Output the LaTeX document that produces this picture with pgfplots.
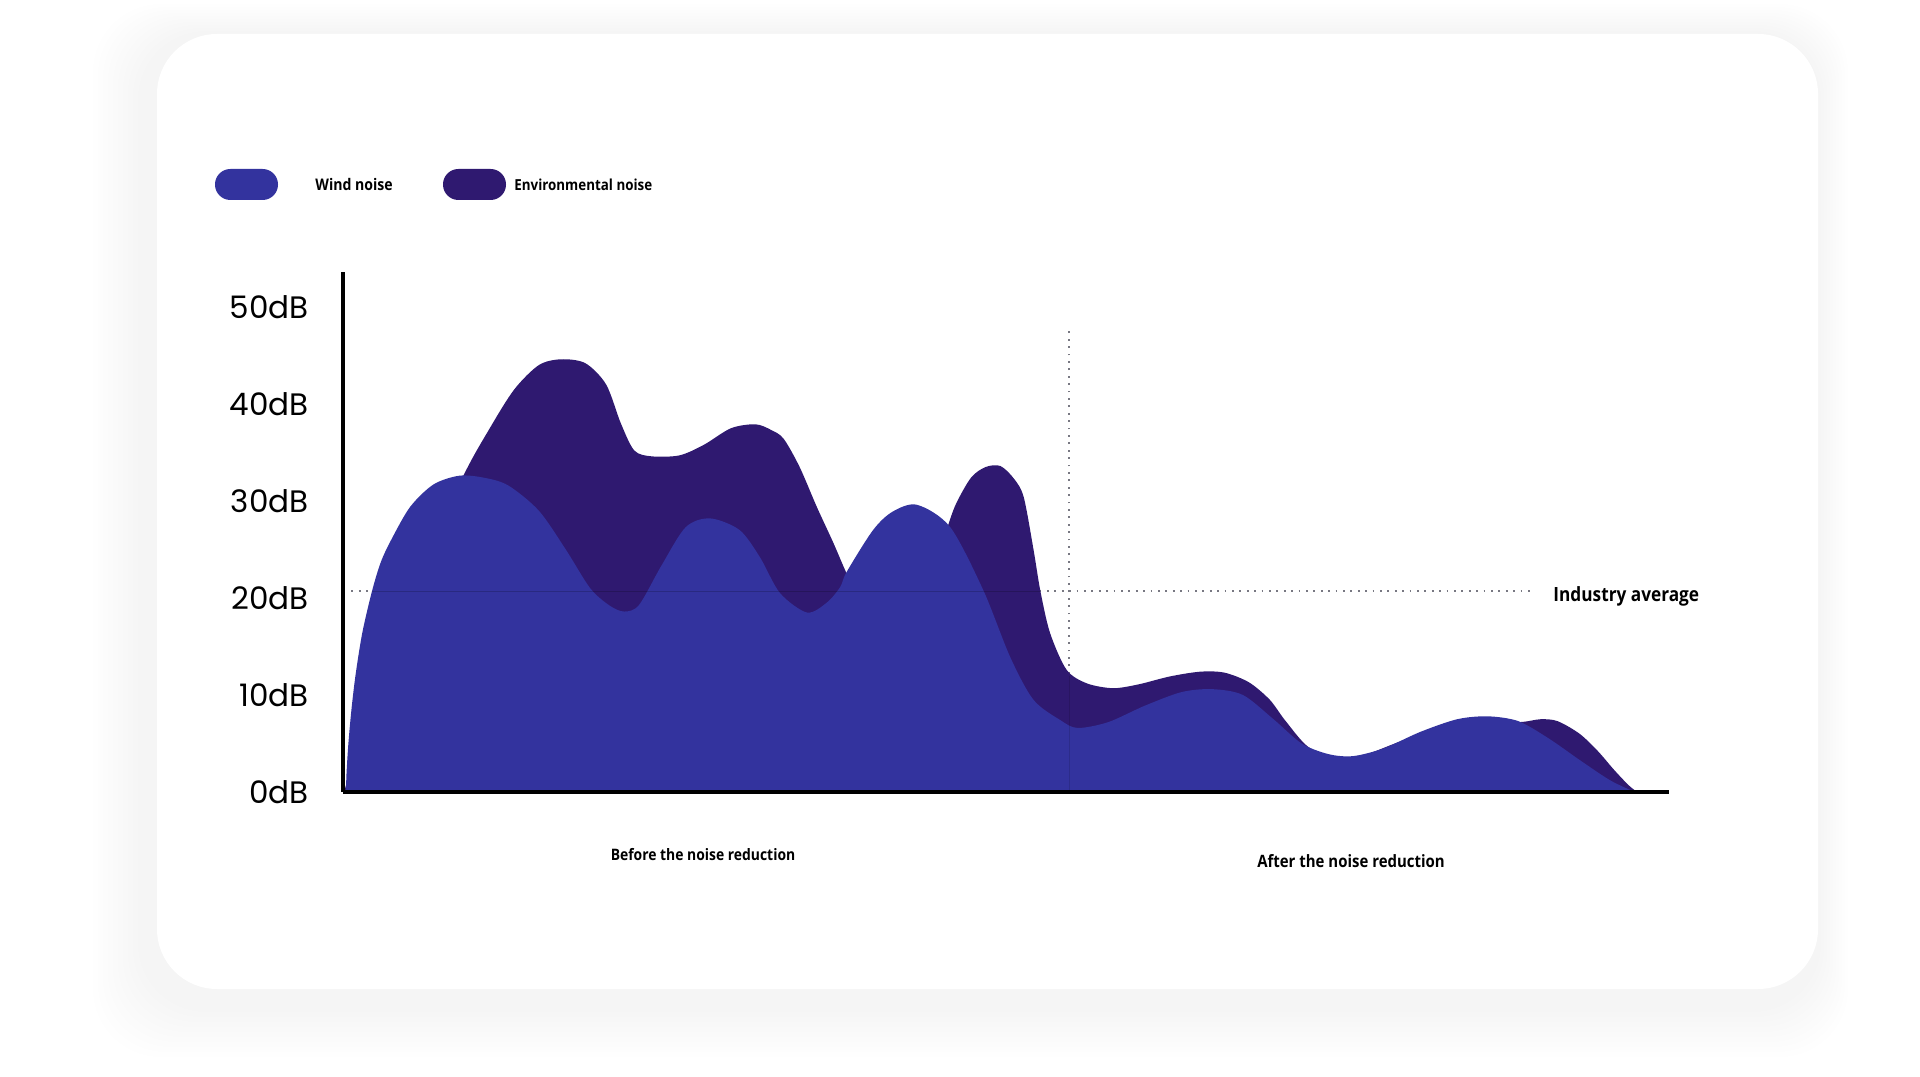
\documentclass[border=0pt]{standalone}
\usepackage{pgfplots}
\pgfplotsset{compat=1.18}
\usepackage{fontspec}
\setmainfont{Open Sans}
\newfontfamily\tickfont{Poppins}
\newfontfamily\labfont[FakeStretch=0.88]{Open Sans}
\definecolor{windc}{RGB}{51,51,158}
\definecolor{envc}{RGB}{47,25,112}
\definecolor{dotc}{RGB}{120,120,130}
\begin{document}
\begin{tikzpicture}[x=0.5pt,y=0.5pt]
\useasboundingbox (0,0) rectangle (1920,1076);
% page
\fill[white] (0,0) rectangle (1920,1076);
% card shadow
\foreach \i in {1,...,10}{
  \fill[black,opacity=0.0025,rounded corners=34pt] ({157-14-\i*5},{87-18-\i*5}) rectangle ({1818+\i*3},{1042+\i*3});
}
\fill[white,rounded corners=30pt] (157,87) rectangle (1818,1042);
% legend
\fill[windc,rounded corners=7.7pt] (215,876) rectangle (278,907);
\fill[envc,rounded corners=7.7pt] (443,876) rectangle (506,907);
\node[anchor=west,inner sep=0pt,font=\labfont\bfseries\fontsize{8}{9}\selectfont] at (315,891) {Wind noise};
\node[anchor=west,inner sep=0pt,font=\labfont\bfseries\fontsize{7.6}{9}\selectfont] at (514,891) {Environmental noise};
% section labels
\node[inner sep=0pt,font=\labfont\bfseries\fontsize{7.9}{9}\selectfont] at (703,221) {Before the noise reduction};
\node[inner sep=0pt,font=\labfont\bfseries\fontsize{8.5}{9}\selectfont] at (1351,215) {After the noise reduction};
\node[anchor=west,inner sep=0pt,font=\labfont\bfseries\fontsize{9.8}{11}\selectfont] at (1553,480) {Industry average};
\begin{axis}[
  at={(171.5pt,142pt)}, anchor=south west,
  scale only axis, width=663pt, height=260pt,
  xmin=280.1, xmax=1363, ymin=0, ymax=53.6,
  axis x line=bottom, axis y line=left,
  axis line style={-, line width=1.8pt, black},
  axis on top,
  xtick=\empty,
  ytick={0,10,20,30,40,50},
  yticklabels={0dB,10dB,20dB,30dB,40dB,50dB},
  major tick length=0pt,
  yticklabel style={anchor=east, inner sep=0pt, xshift=-17pt, font=\tickfont\fontsize{15.5}{16}\selectfont},
  clip=false,
]
% reference lines (behind the fills)
\addplot[dotc, line width=0.9pt, dash pattern=on 0.9pt off 2.8pt] coordinates {(287,20.7) (1253,20.7)};
\addplot[dotc, line width=0.9pt, dash pattern=on 0.9pt off 2.8pt] coordinates {(873,0) (873,48.0)};
% environmental noise (behind)
\addplot[fill=envc, draw=none, smooth, tension=0.5] coordinates {
(281,0)(300,8)(340,22)(378,32.5)(400,37.5)(420,41.5)(440,44)(458,44.6)(478,44.2)(495,42)(507,38)(518,35.2)(532,34.6)(555,34.7)(575,35.8)(597,37.5)(617,37.9)(630,37.3)(640,36.4)(653,33.5)(667,29.4)(680.5,25.7)(691.5,22.5)(702,20)(720,18.5)(740,19.5)(758,23)(770,26)(780,29.5)(793,32.4)(805,33.5)(817,33.6)(828,32.3)(836,30.4)(844,25)(849.5,20.8)(857.5,16.4)(871,12.6)(887.5,11.2)(909,10.7)(930,11.1)(955,11.9)(980,12.4)(1000,12.3)(1020,11.3)(1037,9.5)(1050,7.3)(1070,4.5)(1100,3.3)(1150,5.5)(1200,7.3)(1240,7.2)(1258,7.5)(1272,7.3)(1290,6)(1305,4.2)(1318,2.3)(1330,0.7)(1337,0)
} \closedcycle;
% wind noise (front)
\addplot[fill=windc, draw=none, smooth, tension=0.5] coordinates {
(282.5,0)(283,2)(284.5,5)(287,8.5)(290.5,12.2)(296,16.5)(304,20.8)(311,23.7)(319.5,26)(335,29.4)(354,31.7)(375,32.6)(395,32.4)(415,31.6)(440,29)(462,25)(482,21)(498,19.2)(510,18.6)(522,19.3)(540,23.3)(560,27.3)(580,28.2)(604,27)(620.6,24.2)(637,20.5)(659,18.5)(675,19.5)(686,21.1)(691.5,22.7)(713,27)(729,28.9)(749,29.6)(776,27.3)(803,20.8)(825,13.9)(844,9.5)(866,7.4)(880,6.6)(905,7.2)(935,8.9)(965,10.3)(990,10.6)(1015,10)(1040,7.5)(1063,5)(1085,3.9)(1105,3.7)(1130,4.5)(1160,6.2)(1190,7.5)(1215,7.8)(1240,7.3)(1265,5.5)(1290,3.3)(1315,1.2)(1335,0)
} \closedcycle;
% faint lines over the fills
\addplot[black, opacity=0.18, line width=0.5pt] coordinates {(304,20.7) (849,20.7)};
\addplot[black, opacity=0.12, line width=0.5pt] coordinates {(873,0) (873,12)};
\end{axis}
\end{tikzpicture}
\end{document}
